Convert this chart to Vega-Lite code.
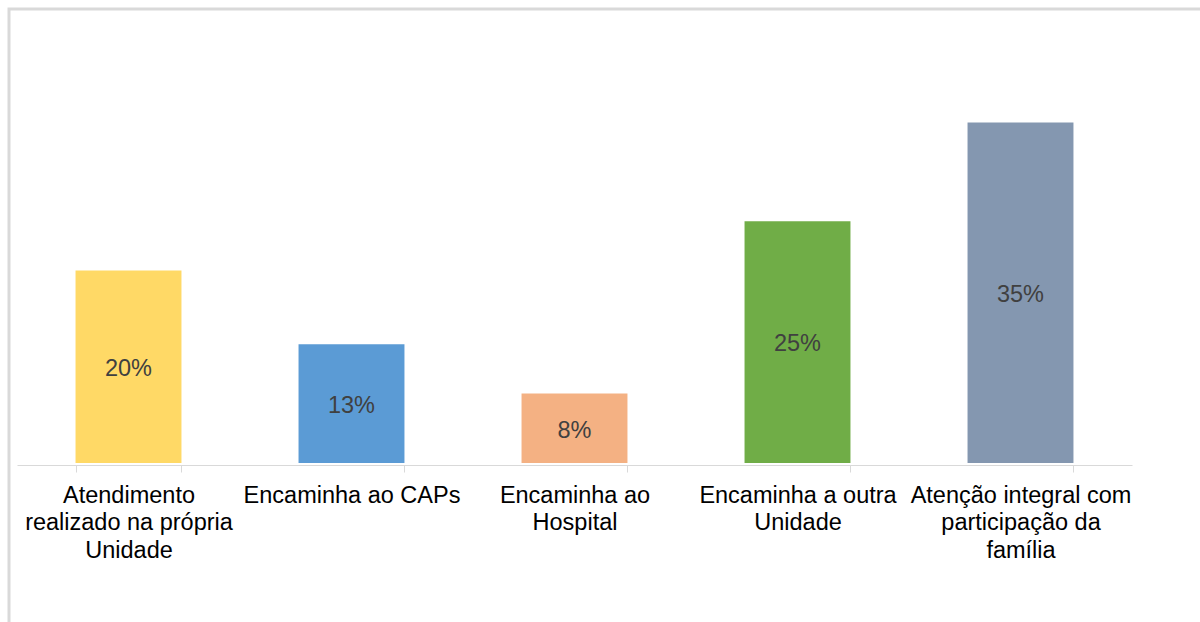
{
  "$schema": "https://vega.github.io/schema/vega-lite/v6.json",
  "width": 1200,
  "height": 622,
  "autosize": {"type": "none"},
  "padding": {"left": 9, "top": 9, "right": 0, "bottom": 0},
  "background": "white",
  "config": {
    "view": {"stroke": "#d9d9d9", "strokeWidth": 3},
    "font": "Liberation Sans"
  },
  "data": {
    "values": [
      {"cat": "Atendimento|realizado na própria|Unidade", "value": 20, "label": "20%"},
      {"cat": "Encaminha ao CAPs", "value": 12.5, "label": "13%"},
      {"cat": "Encaminha ao|Hospital", "value": 7.5, "label": "8%"},
      {"cat": "Encaminha a outra|Unidade", "value": 25, "label": "25%"},
      {"cat": "Atenção integral com|participação da|família", "value": 35, "label": "35%"}
    ]
  },
  "encoding": {
    "x": {
      "field": "cat",
      "type": "nominal",
      "sort": null,
      "scale": {"range": [8, 1123], "paddingInner": 0.525, "paddingOuter": 0.2625},
      "axis": {
        "title": null,
        "orient": "bottom",
        "offset": -166,
        "domainColor": "#d9d9d9",
        "domainWidth": 1,
        "tickColor": "#d9d9d9",
        "tickSize": 7,
        "tickBand": "extent",
        "labelExpr": "split(datum.label, '|')",
        "labelFont": "Liberation Sans",
        "labelFontSize": 23.5,
        "labelLineHeight": 27.5,
        "labelColor": "#000000",
        "labelPadding": 11,
        "labelLimit": 0,
        "labelAngle": 0,
        "grid": false
      }
    }
  },
  "layer": [
    {
      "mark": {"type": "bar"},
      "encoding": {
        "y": {
          "field": "value",
          "type": "quantitative",
          "scale": {"domain": [0.46, 35], "range": [454, 113.6], "clamp": true, "zero": false, "nice": false},
          "axis": null
        },
        "y2": {"datum": 0},
        "color": {
          "field": "cat",
          "type": "nominal",
          "sort": null,
          "scale": {"range": ["#FFD966", "#5B9BD5", "#F4B183", "#70AD47", "#8497B0"]},
          "legend": null
        }
      }
    },
    {
      "mark": {"type": "text", "font": "Liberation Sans", "fontSize": 23.5, "color": "#404040", "baseline": "middle", "align": "center"},
      "encoding": {
        "y": {"field": "value", "type": "quantitative", "stack": "zero", "bandPosition": 0.5},
        "text": {"field": "label"}
      }
    }
  ]
}
